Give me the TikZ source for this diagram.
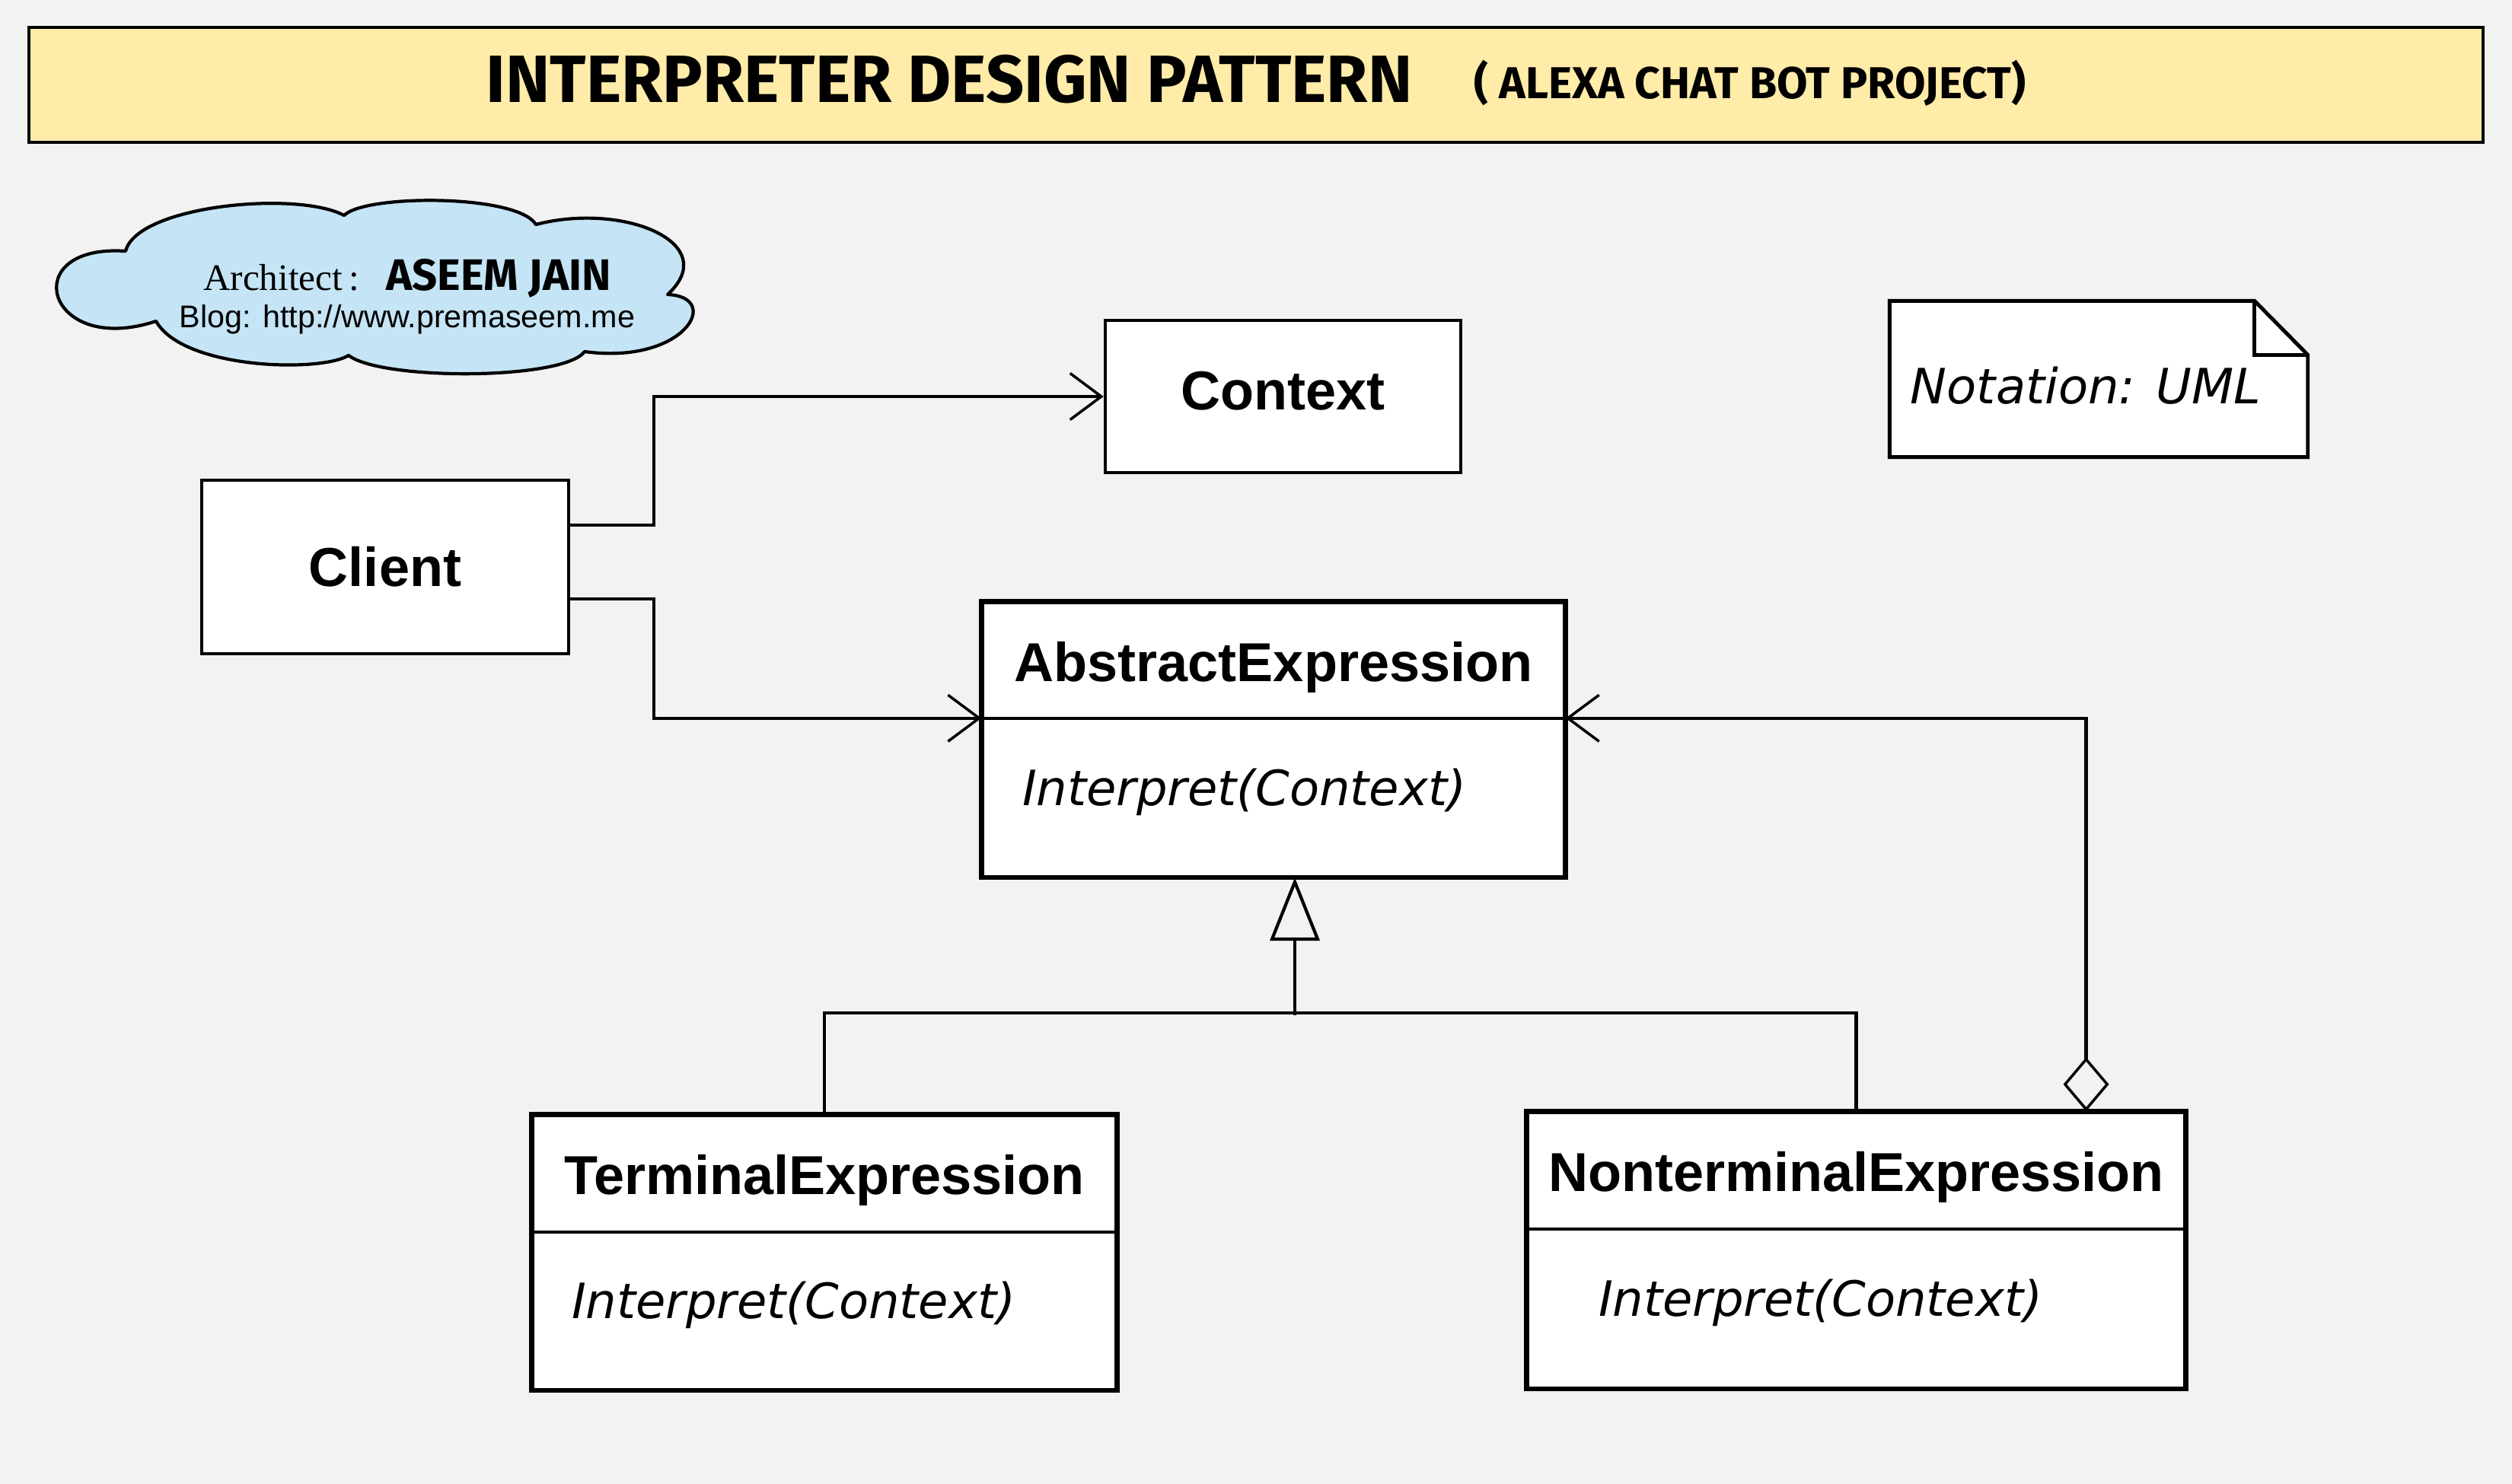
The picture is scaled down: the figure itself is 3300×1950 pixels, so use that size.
\documentclass[tikz,border=0pt]{standalone}
\usepackage{fontspec}
\setmainfont{Liberation Sans}
\newfontfamily\archfont{Liberation Serif}
\newfontfamily\comicfont{Fira Sans}
\newfontfamily\opfont{DejaVu Sans}
\usetikzlibrary{arrows.meta, positioning, calc}
\definecolor{mbg}{HTML}{F2F2F2}
\definecolor{mtitle}{HTML}{FFECA8}
\definecolor{mcloud}{HTML}{C5E4F5}
\tikzset{
  titlebox/.style={draw=black, fill=mtitle, line width=1.2pt,
                   minimum width=322.4mm, minimum height=15.1mm},
  clsbox/.style={draw=black, fill=white, line width=1.3pt,
                 font=\fontsize{20.5}{24}\selectfont\bfseries},
  namepart/.style={fill=white, inner sep=0pt, text height=18pt, text depth=2pt,
                   font=\fontsize{20.5}{24}\selectfont\bfseries},
  oppart/.style={fill=white, inner sep=0pt},
  optext/.style={inner sep=0pt, font=\opfont\itshape\fontsize{18.2}{22}\selectfont},
  frame/.style={line width=1.9pt},
  divider/.style={line width=1.1pt},
  notebox/.style={inner sep=0pt, minimum width=54.8mm, minimum height=20.4mm},
  arr/.style={-{Straight Barb[length=4.1mm, width=6.1mm, line width=1pt]}, line width=1.2pt},
  genarr/.style={{Triangle[open, length=8.3mm, width=6.5mm, line width=1.2pt]}-, line width=1.2pt},
  aggarr/.style={{Diamond[open, length=7.1mm, width=6mm, line width=1pt]}-{Straight Barb[length=4.1mm, width=6.1mm, line width=1pt]},
                 line width=1.2pt},
}

\begin{document}
\begin{tikzpicture}[x=0.1mm, y=-0.1mm]
  \fill[mbg] (0,0) rectangle (3300,1950);
  \useasboundingbox (0,0) rectangle (3300,1950);

  %% Title
  \node[titlebox] (title) at (1650,111.5) {};
  \node[inner sep=0pt, anchor=base west, font=\comicfont\bfseries\fontsize{25}{29}\selectfont]
    (ttl) at (638,135) {INTERPRETER DESIGN PATTERN};
  \node[inner sep=0pt, anchor=base west, font=\comicfont\bfseries\fontsize{16.7}{19}\selectfont]
    (subttl) at (1936,130) {( ALEXA CHAT BOT PROJECT)};

  %% Architect cloud
  \draw[fill=mcloud, line width=1.2pt, line join=round]
    (165,330) .. controls (180,270) and (390,250) .. (452,283)
              .. controls (480,255) and (680,255) .. (704,295)
              .. controls (820,265) and (950,320) .. (877,387)
              .. controls (950,390) and (900,480) .. (768,462)
              .. controls (740,500) and (500,500) .. (458,467)
              .. controls (420,490) and (240,485) .. (205,422)
              .. controls (60,470) and (20,320) .. cycle;
  \coordinate (cloudc) at (491,375);
  \node[inner sep=0pt, anchor=base] (arch) at ([xshift=4.4mm, yshift=-0.6mm]cloudc)
    {{\archfont\fontsize{14}{16}\selectfont Architect\,:}\quad{\comicfont\bfseries\fontsize{16.5}{18}\selectfont ASEEM JAIN}};
  \node[inner sep=0pt, anchor=base, font=\fontsize{11.75}{14}\selectfont] (blog) at ([yshift=-5mm]arch.base)
    {Blog: http://www.premaseem.me};

  %% Note
  \node[notebox] (note) at (2757,498) {};
  \draw[fill=white, line width=1.4pt] (note.north west) -- ([xshift=-7mm]note.north east)
    -- ([yshift=-7.1mm]note.north east) -- (note.south east) -- (note.south west) -- cycle;
  \draw[line width=1.4pt] ([xshift=-7mm]note.north east) |- ([yshift=-7.1mm]note.north east);
  \node[optext] (notelbl) at ([xshift=-1.7mm, yshift=-0.9mm]note.center) {Notation: UML};

  %% Simple classes
  \node[clsbox, minimum width=46.7mm, minimum height=20mm, text height=12pt, text depth=2pt]
    (context) at (1685.5,521) {Context};
  \node[clsbox, minimum width=48.2mm, minimum height=22.8mm] (client) at (506,745) {Client};

  %% AbstractExpression
  \node[namepart, minimum width=76.6mm, minimum height=15.2mm] (absname) at (1673,867) {AbstractExpression};
  \node[oppart, minimum width=76.6mm, minimum height=20.8mm, below=0pt of absname] (absop) {};
  \draw[frame] (absname.north west) rectangle (absop.south east);
  \draw[divider] (absname.south west) -- (absname.south east);
  \node[optext, right=5.3mm of absop.west, yshift=0.8mm] (absopl) {Interpret(Context)};

  %% TerminalExpression
  \node[namepart, minimum width=76.8mm, minimum height=15.3mm] (termname) at (1083,1541.5) {TerminalExpression};
  \node[oppart, minimum width=76.8mm, minimum height=20.7mm, below=0pt of termname] (termop) {};
  \draw[frame] (termname.north west) rectangle (termop.south east);
  \draw[divider] (termname.south west) -- (termname.south east);
  \node[optext, right=5.2mm of termop.west, yshift=0.8mm] (termopl) {Interpret(Context)};

  %% NonterminalExpression
  \node[namepart, minimum width=86.5mm, minimum height=15.3mm] (ntname) at (2438.5,1537.5) {NonterminalExpression};
  \node[oppart, minimum width=86.5mm, minimum height=20.9mm, below=0pt of ntname] (ntop) {};
  \draw[frame] (ntname.north west) rectangle (ntop.south east);
  \draw[divider] (ntname.south west) -- (ntname.south east);
  \node[optext, right=9.4mm of ntop.west, yshift=0.8mm] (ntopl) {Interpret(Context)};

  %% Associations
  \draw[arr] ([yshift=5.5mm]client.east) -- ++(110,0) |- (context.west);
  \draw[arr] ([yshift=-4.2mm]client.east) -- ++(110,0) |- (absname.south west);

  %% Generalization
  \draw[line width=1.2pt] (termname.north) -- ++(0,-133) -| (ntname.north);
  \draw[genarr] ([xshift=2.8mm]absop.south) -- ++(0,181);

  %% Aggregation
  \draw[aggarr] ([xshift=30.2mm]ntname.north) |- (absname.south east);
\end{tikzpicture}
\end{document}
